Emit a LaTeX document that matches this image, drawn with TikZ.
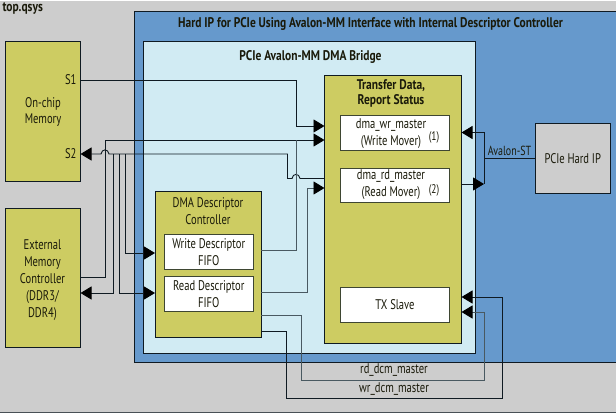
\documentclass[tikz,border=0pt]{standalone}
\usepackage{fontspec}
\setmainfont{PT Sans}[FakeStretch=0.755,BoldFeatures={FakeStretch=0.82}]
\usetikzlibrary{arrows.meta}
\definecolor{bg}{HTML}{CDCDCD}
\definecolor{hipblue}{HTML}{6699CC}
\definecolor{pale}{HTML}{D1EBF3}
\definecolor{olive}{HTML}{CDCC62}
\definecolor{ink}{HTML}{0F1A22}
\definecolor{txt}{HTML}{1A1A0A}
\tikzset{
  x=1pt,y=-1pt,
  every node/.style={inner sep=0pt,outer sep=0pt,text=txt,align=center,
    font=\fontsize{14}{16.8}\selectfont},
  box/.style={draw=ink,line width=0.9pt,anchor=north west},
  oli/.style={box,fill=olive},
  wht/.style={draw=ink!75!olive,line width=0.9pt,fill=white,anchor=north west},
  hd/.style={font=\fontsize{14}{15.4}\selectfont\bfseries},
  conn/.style={draw=ink,line width=0.9pt},
  faded/.style={draw=ink!70!pale,line width=0.9pt},
  tip/.style={-{Triangle[length=11pt,width=13pt,color=black]}},
  tipb/.style={{Triangle[length=11pt,width=13pt,color=black]}-},
}
\begin{document}
\begin{tikzpicture}
\clip (0,0) rectangle (616,415);
\fill[white] (0,0) rectangle (616,415);
\fill[bg] (0,1) rectangle (616,412);
\draw[ink!70!bg,line width=0.8pt] (0,412) -- (616,412);
% containers
\node[box,fill=hipblue,minimum width=490pt,minimum height=351pt] (hip) at (134,11) {};
\node[box,fill=pale,minimum width=332pt,minimum height=312.5pt] (bridge) at (143,41) {};
\node[oli,minimum width=75pt,minimum height=140pt] (onchip) at (5.5,41) {};
\node[oli,minimum width=75pt,minimum height=139.5pt] (ext) at (5.5,208) {};
\node[oli,minimum width=137pt,minimum height=268pt] (xfer) at (324.5,75) {};
\node[oli,minimum width=106pt,minimum height=146pt] (desc) at (155,191) {};
\node[wht,minimum width=109.5pt,minimum height=34.5pt] (wr) at (340,115.5) {};
\node[wht,minimum width=109.5pt,minimum height=34.5pt] (rd) at (340,168) {};
\node[wht,minimum width=109.5pt,minimum height=35pt] (tx) at (340,287.5) {};
\node[wht,minimum width=89.5pt,minimum height=35pt] (wfifo) at (164,234.5) {Write Descriptor\\FIFO};
\node[wht,minimum width=89.5pt,minimum height=34.5pt] (rfifo) at (164,276.5) {Read Descriptor\\FIFO};
\node[box,fill=bg,minimum width=75.5pt,minimum height=69.5pt] (hard) at (535,123.5) {PCIe Hard IP};
% labels
\node[hd,anchor=west] (top) at (2.5,9) {top.qsys};
\node[hd] (hiptitle) at (370.5,23.5) {Hard IP for PCIe Using Avalon-MM Interface with Internal Descriptor Controller};
\node[hd] (brtitle) at (310.5,57) {PCIe Avalon-MM DMA Bridge};
\node[hd] (xftitle) at (391,93.5) {Transfer Data,\\Report Status};
\node (onchiptxt) at (43,112) {On-chip\\Memory};
\node[font=\fontsize{14}{17}\selectfont] (exttxt) at (42.5,280.5) {External\\Memory\\Controller\\(DDR3/\\DDR4)};
\node (wrname) at (391,133.5) {dma\_wr\_master\\(Write Mover)};
\node[font=\fontsize{12.5}{15}\selectfont] (wrnote) at (434,137) {(1)};
\node (rdname) at (391,185) {dma\_rd\_master\\(Read Mover)};
\node[font=\fontsize{12.5}{15}\selectfont] (rdnote) at (434,190) {(2)};
\node (txname) at (395,304.5) {TX Slave};
\node (desctitle) at (208,211.5) {DMA Descriptor\\Controller};
\node[anchor=east] (s1) at (76.5,80) {S1};
\node[anchor=east] (s2) at (76.5,154) {S2};
\node[font=\fontsize{13.2}{16}\selectfont] (avst) at (509.5,151) {Avalon-ST};
\node (rdcm) at (394,370) {rd\_dcm\_master};
\node (wdcm) at (394,389) {wr\_dcm\_master};
% free junctions
\coordinate (ja) at (484,158);
\coordinate (jl) at (113.5,154);
% S1 to Transfer
\draw[conn,tip] (onchip.east |- 0,80) -- (296,80) -- (296,126) -- (xfer.west |- 0,126);
% External to Transfer
\draw[conn,tip] (ext.east |- 0,277) -- (105,277) -- (105,140) -- (xfer.west |- 0,140);
% S2 read return
\draw[conn,tipb] (onchip.east |- 0,154) -- (101,154) .. controls (102,148.5) and (108,148.5) .. (109,154) -- (287.5,154) -- (287.5,178.5) -- (292,178.5) .. controls (293,173) and (299,173) .. (300,178.5) -- (xfer.west |- 0,178.5);
% bus drops
\draw[conn,tipb] (ext.east |- 0,293) -- (113.5,293) -- (jl);
\draw[conn,tip] (119.5,154) -- (119.5,293) -- (desc.west |- 0,293);
\draw[conn,tip] (125.5,154) -- (125.5,253) -- (desc.west |- 0,253);
% FIFO outputs
\draw[faded] (desc.east |- 0,250) -- (296,250) -- (296,140);
\draw[faded,tip] (desc.east |- 0,292) -- (307,292) -- (307,188) -- (xfer.west |- 0,188);
% Avalon-ST
\draw[conn,tip] (ja) -- (484,132.5) -- (xfer.east |- 0,132.5);
\draw[conn,tip] (xfer.east |- 0,184) -- (ja |- 0,184);
\draw[conn] (ja |- 0,184) -- (ja) -- (hard.west |- ja);
% dcm masters
\draw[faded,tip] (desc.east |- 0,315.5) -- (301.5,315.5) -- (301.5,380) -- (484,380) -- (484,312) -- (xfer.east |- 0,312);
\draw[conn,tip] (desc.east |- 0,331) -- (286,331) -- (286,398.5) -- (502.5,398.5) -- (502.5,297) -- (xfer.east |- 0,297);
\end{tikzpicture}
\end{document}
